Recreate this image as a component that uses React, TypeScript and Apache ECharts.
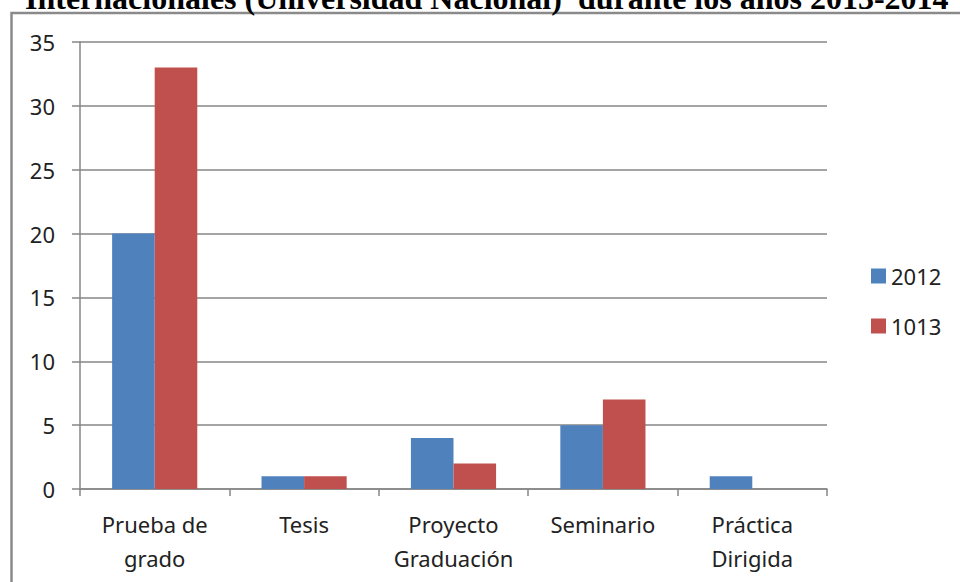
import React, { useEffect, useRef } from "react";
import * as echarts from "echarts";

const titleText = "Internacionales (Universidad Nacional)  durante los años 2013-2014";
const categories = ["Prueba de\ngrado", "Tesis", "Proyecto\nGraduación", "Seminario", "Práctica\nDirigida"];
const seriesNames = ["2012", "1013"];
const values2012 = [20, 1, 4, 5, 1];
const values1013 = [33, 1, 2, 7, 0];
const yMin = 0;
const yMax = 35;
const yInterval = 5;

export default function App() {
  const ref = useRef<HTMLDivElement>(null);
  useEffect(() => {
    document.body.style.margin = "0";
    const chart = echarts.init(ref.current!, undefined, { renderer: "svg" });
    const labelFont = "'Noto Sans', sans-serif";
    chart.setOption({
      animation: false,
      backgroundColor: "#ffffff",
      graphic: [
        {
          type: "rect",
          shape: { x: 11.5, y: 13, width: 1100, height: 700 },
          style: { fill: "none", stroke: "#8a8a8a", lineWidth: 2.5 },
          z: 0,
        },
        {
          type: "text",
          x: 25,
          y: -2,
          style: {
            text: titleText,
            font: "bold 32px 'Liberation Serif', serif",
            fill: "#000000",
            textAlign: "left",
            textVerticalAlign: "middle",
          },
        },
      ],
      grid: { left: 80, right: 133, top: 42, bottom: 93, containLabel: false },
      legend: {
        orient: "vertical",
        left: 871,
        top: 262,
        padding: 0,
        icon: "rect",
        itemWidth: 15,
        itemHeight: 15,
        itemGap: 22,
        textStyle: { fontFamily: labelFont, fontSize: 22, color: "#222", lineHeight: 28 },
        data: seriesNames,
      },
      xAxis: {
        type: "category",
        data: categories,
        axisLine: { show: true, lineStyle: { color: "#868686", width: 1.5 } },
        axisTick: { show: true, length: 7, alignWithLabel: false, lineStyle: { color: "#868686", width: 1.5 } },
        axisLabel: {
          fontFamily: labelFont,
          fontSize: 22,
          color: "#222",
          lineHeight: 34,
          margin: 18,
          interval: 0,
        },
      },
      yAxis: {
        type: "value",
        min: yMin,
        max: yMax,
        interval: yInterval,
        axisLine: { show: true, lineStyle: { color: "#868686", width: 1.5 } },
        axisTick: { show: true, length: 8, lineStyle: { color: "#868686", width: 1.5 } },
        splitLine: { show: true, lineStyle: { color: "#868686", width: 1.5 } },
        axisLabel: { fontFamily: labelFont, fontSize: 22, color: "#222", margin: 25 },
      },
      series: [
        {
          name: seriesNames[0],
          type: "bar",
          data: values2012,
          barGap: "0%",
          barCategoryGap: "43%",
          itemStyle: { color: "#4F81BD" },
        },
        {
          name: seriesNames[1],
          type: "bar",
          data: values1013,
          barGap: "0%",
          barCategoryGap: "43%",
          itemStyle: { color: "#C0504D" },
        },
      ],
    });
    return () => chart.dispose();
  }, []);
  return <div ref={ref} style={{ width: 960, height: 582 }} />;
}
